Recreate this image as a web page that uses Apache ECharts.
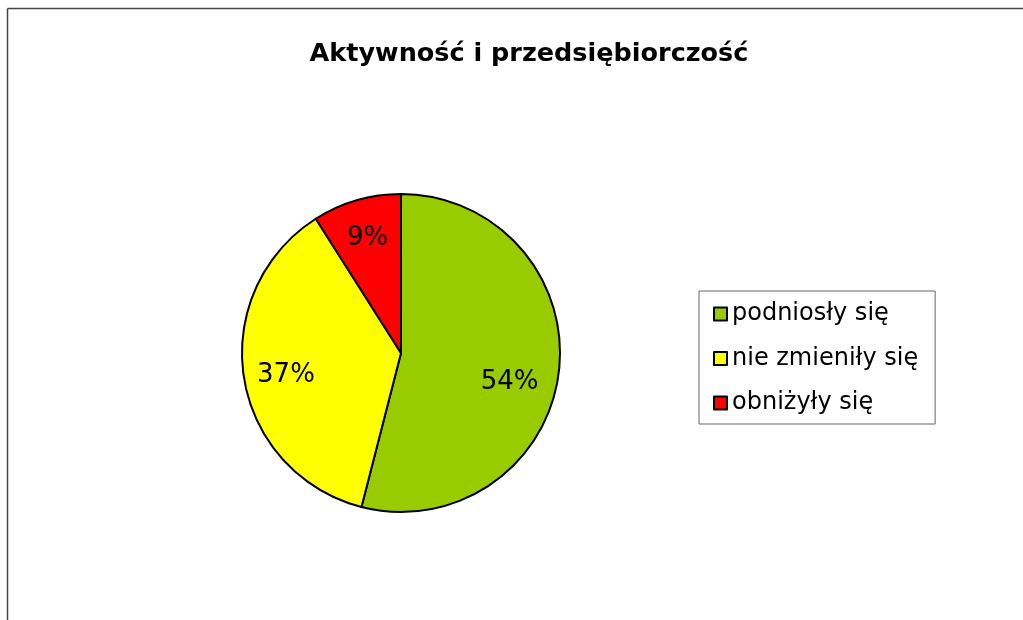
<!DOCTYPE html>
<html>
<head>
<meta charset="utf-8">
<script src="https://cdn.jsdelivr.net/npm/echarts@6/dist/echarts.min.js"></script>
<style>
html,body{margin:0;padding:0;background:#fff;}
#chart{width:1023px;height:620px;}
</style>
</head>
<body>
<div id="chart"></div>
<script>
const titleText = 'Aktywność i przedsiębiorczość';
const categories = ['podniosły się', 'nie zmieniły się', 'obniżyły się'];
const values = [54, 37, 9];
const colors = ['#99CC00', '#FFFF00', '#FF0000'];

const chart = echarts.init(document.getElementById('chart'));
const FONT = '"DejaVu Sans", Verdana, sans-serif';
const data = categories.map((c, i) => ({ name: c, value: values[i], itemStyle: { color: colors[i] } }));
const labelData = categories.map((c, i) => {
  const item = { name: c, value: values[i] };
  if (i === 0) item.label = { offset: [-10, 14] };
  if (i === 1) item.label = { offset: [3, 4] };
  return item;
});

chart.setOption({
  animation: false,
  backgroundColor: '#fff',
  title: {
    text: titleText,
    left: 524,
    top: 36,
    textAlign: 'center',
    textStyle: { fontFamily: FONT, fontSize: 25.5, fontWeight: 'bold', color: '#000' }
  },
  legend: {
    orient: 'vertical',
    left: 699,
    top: 291,
    data: categories.map((c, i) => ({ name: c, itemStyle: { color: colors[i], borderColor: '#000', borderWidth: 2 } })),
    icon: 'rect',
    itemWidth: 13,
    itemHeight: 13,
    itemGap: 20.5,
    padding: [11, 17, 9, 14],
    borderColor: '#666',
    borderWidth: 1,
    textStyle: { fontFamily: FONT, fontSize: 24, color: '#000', lineHeight: 22 },
    selectedMode: false
  },
  graphic: [
    { type: 'line', shape: { x1: 7.5, y1: 8.5, x2: 1023, y2: 8.5 }, style: { stroke: '#444', lineWidth: 1.5 }, silent: true },
    { type: 'line', shape: { x1: 7.5, y1: 8.5, x2: 7.5, y2: 620 }, style: { stroke: '#444', lineWidth: 1.5 }, silent: true }
  ],
  series: [
    {
      type: 'pie',
      center: [401, 353],
      radius: [0, 159],
      startAngle: 90,
      clockwise: true,
      data: data,
      label: { show: false },
      labelLine: { show: false },
      itemStyle: { borderColor: '#000', borderWidth: 2 },
      emphasis: { disabled: true },
      silent: true
    },
    {
      type: 'pie',
      center: [401, 353],
      radius: [74, 159],
      startAngle: 90,
      clockwise: true,
      data: labelData,
      itemStyle: { color: 'rgba(0,0,0,0)', borderWidth: 0 },
      label: {
        show: true,
        position: 'inside',
        formatter: p => p.value + '%',
        fontFamily: FONT,
        fontSize: 26,
        color: '#000'
      },
      labelLine: { show: false },
      emphasis: { disabled: true },
      silent: true,
      z: 3
    }
  ]
});
</script>
</body>
</html>
